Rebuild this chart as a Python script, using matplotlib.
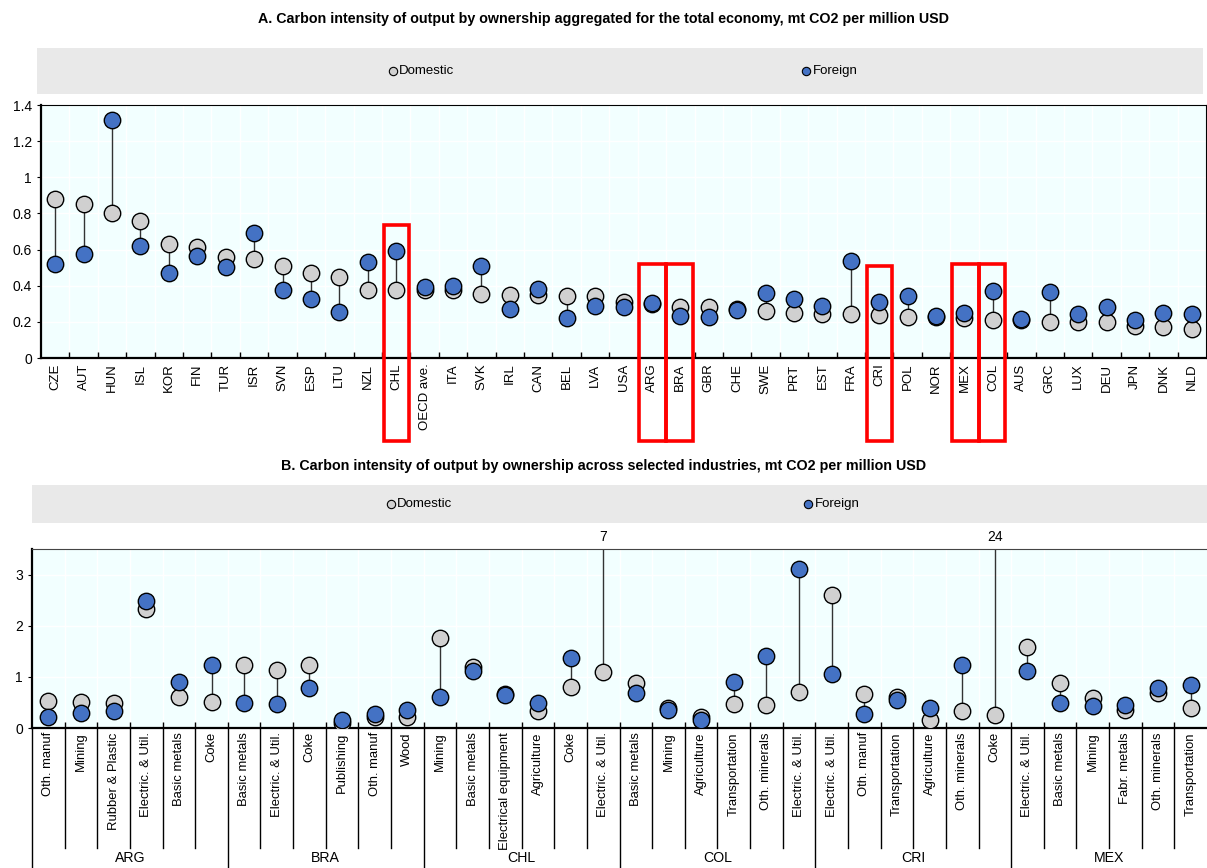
import matplotlib.pyplot as plt
import matplotlib.transforms as mtransforms
from matplotlib.patches import Rectangle
from matplotlib.ticker import FormatStrFormatter

plt.rcParams['font.family'] = ['Liberation Sans', 'DejaVu Sans']

# Panel A: total economy, by country
countries = ["CZE", "AUT", "HUN", "ISL", "KOR", "FIN", "TUR", "ISR", "SVN", "ESP", "LTU",
             "NZL", "CHL", "OECD ave.", "ITA", "SVK", "IRL", "CAN", "BEL", "LVA", "USA",
             "ARG", "BRA", "GBR", "CHE", "SWE", "PRT", "EST", "FRA", "CRI", "POL", "NOR",
             "MEX", "COL", "AUS", "GRC", "LUX", "DEU", "JPN", "DNK", "NLD"]
domestic_a = [0.88, 0.85, 0.80, 0.76, 0.63, 0.615, 0.56, 0.547, 0.508, 0.468, 0.449,
              0.379, 0.376, 0.378, 0.376, 0.352, 0.35, 0.35, 0.341, 0.343, 0.309,
              0.297, 0.282, 0.282, 0.271, 0.26, 0.247, 0.243, 0.243, 0.236, 0.227, 0.227,
              0.223, 0.21, 0.208, 0.199, 0.199, 0.197, 0.177, 0.173, 0.16]
foreign_a = [0.518, 0.578, 1.317, 0.617, 0.468, 0.567, 0.503, 0.694, 0.374, 0.326, 0.256,
             0.532, 0.591, 0.394, 0.40, 0.51, 0.273, 0.381, 0.221, 0.287, 0.282,
             0.306, 0.232, 0.227, 0.263, 0.359, 0.328, 0.289, 0.536, 0.308, 0.341, 0.234,
             0.249, 0.368, 0.217, 0.367, 0.245, 0.284, 0.21, 0.249, 0.245]

# Panel B: selected industries, by country
groups_b = ["ARG", "BRA", "CHL", "COL", "CRI", "MEX"]
industries_b = [
    "Oth. manuf", "Mining", "Rubber & Plastic", "Electric. & Util.", "Basic metals", "Coke",
    "Basic metals", "Electric. & Util.", "Coke", "Publishing", "Oth. manuf", "Wood",
    "Mining", "Basic metals", "Electrical equipment", "Agriculture", "Coke", "Electric. & Util.",
    "Basic metals", "Mining", "Agriculture", "Transportation", "Oth. minerals", "Electric. & Util.",
    "Electric. & Util.", "Oth. manuf", "Transportation", "Agriculture", "Oth. minerals", "Coke",
    "Electric. & Util.", "Basic metals", "Mining", "Fabr. metals", "Oth. minerals", "Transportation"]
domestic_b = [0.52, 0.515, 0.49, 2.335, 0.60, 0.51,
              1.24, 1.13, 1.24, 0.10, 0.21, 0.22,
              1.768, 1.19, 0.67, 0.326, 0.796, 1.096,
              0.887, 0.398, 0.215, 0.476, 0.444, 0.711,
              2.596, 0.659, 0.607, 0.15, 0.326, 0.248,
              1.585, 0.88, 0.594, 0.346, 0.685, 0.398]
foreign_b = [0.215, 0.29, 0.33, 2.49, 0.90, 1.226,
             0.49, 0.47, 0.79, 0.163, 0.27, 0.345,
             0.613, 1.115, 0.646, 0.483, 1.376, 7,
             0.678, 0.359, 0.15, 0.894, 1.409, 3.11,
             1.063, 0.267, 0.555, 0.385, 1.233, 24,
             1.109, 0.496, 0.437, 0.45, 0.789, 0.835]
group_size = 6

GRAY = "#D0D0D0"
BLUE = "#4472C4"
BG = "#F2FFFF"
BAND = "#E9E9E9"
FS = 9.5

W, H = 1207, 868
fig = plt.figure(figsize=(W / 100, H / 100), dpi=100)


def px_axes(l, t, r, b):
    return fig.add_axes([l / W, 1 - b / H, (r - l) / W, (b - t) / H])


def legend_band(l, t, r, b, xd, xf):
    lax = px_axes(l, t, r, b)
    lax.set_facecolor(BAND)
    lax.set_xlim(l, r)
    lax.set_ylim(0, 1)
    lax.set_xticks([])
    lax.set_yticks([])
    for s in lax.spines.values():
        s.set_visible(False)
    lax.scatter([xd], [0.5], s=36, c=GRAY, edgecolors="black", linewidths=0.8)
    lax.text(xd + 6, 0.5, "Domestic", va="center", fontsize=FS)
    lax.scatter([xf], [0.5], s=36, c=BLUE, edgecolors="black", linewidths=0.8)
    lax.text(xf + 7, 0.5, "Foreign", va="center", fontsize=FS)


def dumbbell(ax, dom, fore, top, xfs):
    n = len(dom)
    for i in range(n):
        ax.plot([i, i], [dom[i], min(fore[i], top)], color="#333333", lw=1, zorder=2)
    ax.scatter(range(n), dom, s=140, c=GRAY, edgecolors="black", linewidths=1, zorder=3)
    ax.scatter(range(n), fore, s=140, c=BLUE, edgecolors="black", linewidths=1, zorder=4)
    ax.set_facecolor(BG)
    ax.set_xlim(-0.5, n - 0.5)
    ax.set_ylim(0, top)
    ax.set_xticks([i + 0.5 for i in range(n - 1)], minor=True)
    ax.tick_params(axis="x", which="major", length=0, pad=4, labelsize=xfs)
    ax.tick_params(axis="x", which="minor", direction="in", length=4, width=1)
    ax.tick_params(axis="y", which="major", length=3, labelsize=FS + 0.5)
    ax.grid(True, which="minor", axis="x", color="white", lw=1)
    ax.grid(True, which="major", axis="y", color="white", lw=1)
    ax.set_axisbelow(True)
    ax.spines["left"].set_linewidth(1.6)
    ax.spines["bottom"].set_linewidth(1.6)


# ---- Panel A ----
fig.text(0.5, 1 - 19 / H,
         "A. Carbon intensity of output by ownership aggregated for the total economy, mt CO2 per million USD",
         ha="center", va="center", fontsize=10.3, weight="bold")
legend_band(37, 48, 1203, 94, 393, 806)

axa = px_axes(41, 105, 1206, 358)
dumbbell(axa, domestic_a, foreign_a, 1.4, FS)
axa.set_xticks(range(len(countries)))
axa.set_xticklabels(countries, rotation=90)
axa.set_yticks([0, 0.2, 0.4, 0.6, 0.8, 1.0, 1.2, 1.4])
axa.yaxis.set_major_formatter(FormatStrFormatter("%g"))

# red highlight boxes
boxes = [("CHL", "CHL", 0.736), ("ARG", "BRA", 0.52), ("CRI", "CRI", 0.51), ("MEX", "COL", 0.52)]
for first, last, top in boxes:
    i0, i1 = countries.index(first), countries.index(last)
    for i in range(i0, i1 + 1):
        left = i - 0.44 if i == i0 else i - 0.5
        right = i + 0.44 if i == i1 else i + 0.5
        axa.add_patch(Rectangle((left, -0.46), right - left, top + 0.46, fill=False,
                                edgecolor="#FF0000", lw=2.6, clip_on=False, zorder=6))

# ---- Panel B ----
fig.text(0.5, 1 - 466 / H,
         "B. Carbon intensity of output by ownership across selected industries, mt CO2 per million USD",
         ha="center", va="center", fontsize=10.3, weight="bold")
legend_band(32, 485, 1207, 523, 391, 808)

axb = px_axes(32, 549, 1207, 728)
top_b = 3.5
dumbbell(axb, domestic_b, foreign_b, top_b, 9.4)
axb.tick_params(axis="x", which="major", pad=3)
axb.set_xticks(range(len(industries_b)))
axb.set_xticklabels(industries_b, rotation=90)
axb.set_yticks([0, 1, 2, 3])
axb.spines["top"].set_color("#444444")
axb.spines["right"].set_visible(False)

trans = mtransforms.blended_transform_factory(axb.transData, axb.transAxes)
for k in range(0, len(industries_b)):
    x = k - 0.5
    y_end = -0.80 if k % group_size == 0 else -0.673
    axb.plot([x, x], [0, y_end], transform=trans, color="black", lw=1, clip_on=False)
for g, name in enumerate(groups_b):
    axb.text(g * group_size + (group_size - 1) / 2, -0.725, name, transform=trans,
             ha="center", va="center", fontsize=10.2)

# values beyond the axis
for i, v in enumerate(foreign_b):
    if v > top_b:
        axb.text(i, 1.067, f"{v:g}", transform=trans, ha="center", va="center", fontsize=FS + 0.5)

fig.savefig("out.png", dpi=100)
